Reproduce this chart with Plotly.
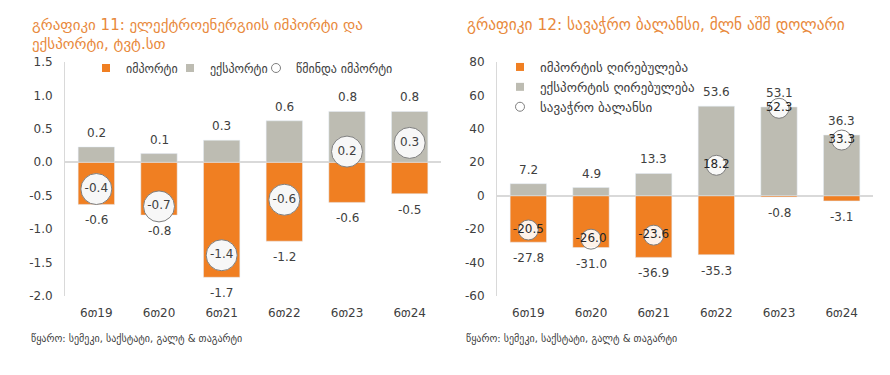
import plotly.graph_objects as go

# ---------------- data ----------------
years = ["6თ19", "6თ20", "6თ21", "6თ22", "6თ23", "6თ24"]

# chart 11: electricity import / export, TWh
el_import = [-0.63, -0.79, -1.72, -1.18, -0.60, -0.47]
el_export = [0.23, 0.13, 0.33, 0.62, 0.76, 0.76]
el_net = [-0.40, -0.66, -1.39, -0.56, 0.16, 0.29]

# chart 12: trade balance, mln USD
tr_import = [-27.8, -31.0, -36.9, -35.3, -0.8, -3.1]
tr_export = [7.2, 4.9, 13.3, 53.6, 53.1, 36.3]
tr_balance = [-20.5, -26.0, -23.6, 18.2, 52.3, 33.3]

left_ticks = [-2.0, -1.5, -1.0, -0.5, 0.0, 0.5, 1.0, 1.5]
left_ticktext = ["-2.0", "-1.5", "-1.0", "-0.5", "0.0", "0.5", "1.0", "1.5"]
right_ticks = [-60, -40, -20, 0, 20, 40, 60, 80]
right_ticktext = ["-60", "-40", "-20", "0", "20", "40", "60", "80"]

title_left_1 = "გრაფიკი 11: ელექტროენერგიის იმპორტი და"
title_left_2 = "ექსპორტი, ტვტ.სთ"
title_right = "გრაფიკი 12: სავაჭრო ბალანსი, მლნ აშშ დოლარი"
source_text = "წყარო: სემეკი, საქსტატი, გალტ & თაგარტი"

names_left = ["იმპორტი", "ექსპორტი", "წმინდა იმპორტი"]
names_right = ["იმპორტის ღირებულება", "ექსპორტის ღირებულება", "სავაჭრო ბალანსი"]

# ---------------- style / layout ----------------
OFF = 8                      # default page body margin
W, H = 890 - OFF, 375 - OFF
MT = 30
PLOT_TOP, PLOT_BOTTOM = 62, 296   # screen pixels
MB = H - (PLOT_BOTTOM - OFF)
PH = H - MT - MB
ORANGE = "#F07F22"
GRAY = "#BDBCB2"
TXT = "#404040"
TITLE_C = "#E8893C"
AXC = "#D9D9D9"
FONT = "DejaVu Sans"


def px_x(p):
    return (p - OFF) / W


def px_y(p):
    return 1 - ((p - OFF) - MT) / PH


fig = go.Figure()

# left chart
fig.add_bar(x=years, y=el_import, name=names_left[0], marker_color=ORANGE,
            width=0.58, xaxis="x", yaxis="y", showlegend=False)
fig.add_bar(x=years, y=el_export, name=names_left[1], marker_color=GRAY,
            width=0.58, xaxis="x", yaxis="y", showlegend=False)
fig.add_scatter(x=years, y=el_net, name=names_left[2], mode="markers+text",
                marker=dict(size=31, color="#F7F7F7", line=dict(color="#7F7F7F", width=1)),
                text=[f"{v:.1f}" for v in el_net], textposition="middle center",
                textfont=dict(size=12, color=TXT, family=FONT),
                xaxis="x", yaxis="y", showlegend=False)

# right chart
fig.add_bar(x=years, y=tr_import, name=names_right[0], marker_color=ORANGE,
            width=0.58, xaxis="x2", yaxis="y2", showlegend=False)
fig.add_bar(x=years, y=tr_export, name=names_right[1], marker_color=GRAY,
            width=0.58, xaxis="x2", yaxis="y2", showlegend=False)
fig.add_scatter(x=years, y=tr_balance, name=names_right[2], mode="markers+text",
                marker=dict(size=20, color="rgba(255,255,255,0.9)", line=dict(color="#7F7F7F", width=1)),
                text=[f"{v:.1f}" for v in tr_balance], textposition="middle center",
                textfont=dict(size=12, color="#262626", family=FONT),
                xaxis="x2", yaxis="y2", showlegend=False)

# legend entries (small symbols as in the reference)
leg_syms = [dict(symbol="square", size=8, color=ORANGE),
            dict(symbol="square", size=8, color=GRAY),
            dict(symbol="circle", size=9, color="white", line=dict(color="#7F7F7F", width=1))]
for nm, sym, lg in zip(names_left, leg_syms, ["legend", "legend3", "legend4"]):
    fig.add_scatter(x=[None], y=[None], mode="markers", name=nm, marker=sym,
                    xaxis="x", yaxis="y", legend=lg, showlegend=True)
for nm, sym in zip(names_right, leg_syms):
    fig.add_scatter(x=[None], y=[None], mode="markers", name=nm, marker=sym,
                    xaxis="x2", yaxis="y2", legend="legend2", showlegend=True)

ann = []
for xr, yr, vals, shift in [("x", "y", el_export, 14), ("x", "y", el_import, -16),
                            ("x2", "y2", tr_export, 14), ("x2", "y2", tr_import, -16)]:
    for c, v in zip(years, vals):
        ann.append(dict(x=c, y=v, xref=xr, yref=yr, text=f"{v:.1f}", showarrow=False,
                        yshift=shift, font=dict(size=12, color=TXT, family=FONT)))

tfont_l = dict(size=15, color=TITLE_C, family=FONT)
tfont_r = dict(size=15.4, color=TITLE_C, family=FONT)
sfont = dict(size=10, color=TXT, family=FONT)
ann += [
    dict(x=px_x(30), y=px_y(25), xref="paper", yref="paper", text=title_left_1,
         showarrow=False, xanchor="left", yanchor="middle", font=tfont_l),
    dict(x=px_x(30), y=px_y(44), xref="paper", yref="paper", text=title_left_2,
         showarrow=False, xanchor="left", yanchor="middle", font=tfont_l),
    dict(x=px_x(465), y=px_y(25), xref="paper", yref="paper", text=title_right,
         showarrow=False, xanchor="left", yanchor="middle", font=tfont_r),
    dict(x=px_x(29), y=px_y(339), xref="paper", yref="paper", text=source_text,
         showarrow=False, xanchor="left", yanchor="middle", font=sfont),
    dict(x=px_x(464), y=px_y(339), xref="paper", yref="paper", text=source_text,
         showarrow=False, xanchor="left", yanchor="middle", font=sfont),
]

ydom = [0, px_y(PLOT_TOP)]
xcommon = dict(type="category", range=[-0.5, 5.5], showline=False, showgrid=False, zeroline=False,
               ticks="outside", ticklen=6, tickcolor="rgba(0,0,0,0)",
               tickfont=dict(size=12, color=TXT, family=FONT), fixedrange=True)
ycommon = dict(showline=True, linecolor=AXC, linewidth=1, showgrid=False,
               zeroline=True, zerolinecolor=AXC, zerolinewidth=1.5, ticks="",
               ticklabelstandoff=9, tickfont=dict(size=12, color=TXT, family=FONT))
lcommon = dict(bgcolor="rgba(0,0,0,0)", traceorder="normal", borderwidth=0)
lfont_l = dict(size=12, color=TXT, family=FONT)
lfont_r = dict(size=13, color=TXT, family=FONT)

fig.update_layout(
    width=W, height=H,
    margin=dict(l=0, r=0, t=MT, b=MB),
    paper_bgcolor="white", plot_bgcolor="white",
    barmode="relative",
    font=dict(family=FONT, color=TXT),
    xaxis=dict(domain=[px_x(65), px_x(441)], anchor="y", **xcommon),
    yaxis=dict(domain=ydom, anchor="x", range=[-2.0, 1.5], tickvals=left_ticks,
               ticktext=left_ticktext, **ycommon),
    xaxis2=dict(domain=[px_x(497), px_x(873)], anchor="y2", **xcommon),
    yaxis2=dict(domain=ydom, anchor="x2", range=[-60, 80], tickvals=right_ticks,
                ticktext=right_ticktext, **ycommon),
    legend=dict(orientation="h", x=px_x(86), xanchor="left", y=px_y(68), yanchor="middle",
                font=lfont_l, **lcommon),
    legend3=dict(orientation="h", x=px_x(170), xanchor="left", y=px_y(68), yanchor="middle",
                 font=lfont_l, **lcommon),
    legend4=dict(orientation="h", x=px_x(256), xanchor="left", y=px_y(68), yanchor="middle",
                 font=lfont_l, **lcommon),
    legend2=dict(orientation="v", x=px_x(500), xanchor="left", y=px_y(52), yanchor="top",
                 tracegroupgap=0, font=lfont_r, **lcommon),
    annotations=ann,
    showlegend=True,
)

fig.write_html("out.html")
